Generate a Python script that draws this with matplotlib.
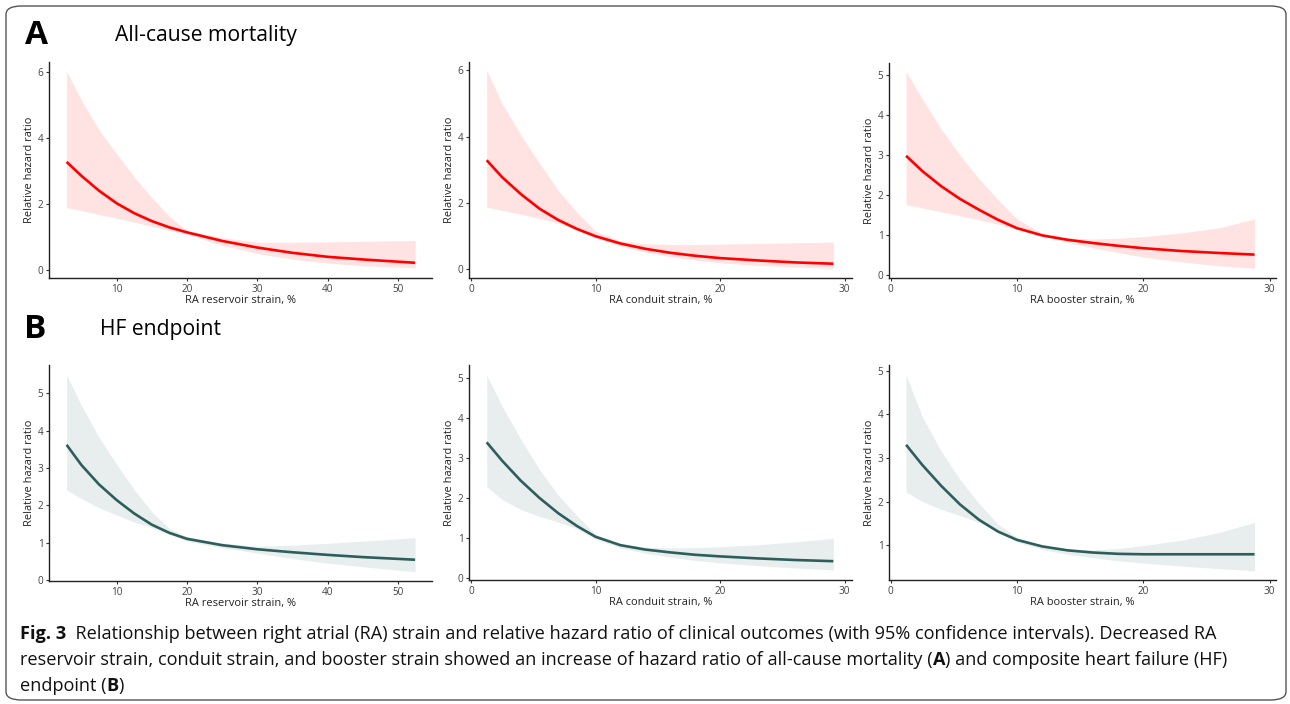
import matplotlib
matplotlib.use("Agg")
import matplotlib.pyplot as plt
from matplotlib.patches import FancyBboxPatch
from matplotlib import font_manager

# ---------------- data ----------------
reservoir_x = [2.9, 5, 7.5, 10, 12.5, 15, 17.5, 20, 25, 30, 35, 40, 45, 52.4]
conduit_x = [1.26, 2.5, 4, 5.5, 7, 8.5, 10, 12, 14, 16, 18, 20, 23, 26, 29.1]
booster_x = [1.22, 2.5, 4, 5.5, 7, 8.5, 10, 12, 14, 16, 18, 20, 23, 26, 28.8]

# All-cause mortality
mort_res_hr = [3.27, 2.85, 2.40, 2.02, 1.72, 1.48, 1.29, 1.14, 0.88, 0.68, 0.52, 0.40, 0.32, 0.22]
mort_res_lo = [1.89, 1.80, 1.68, 1.57, 1.45, 1.32, 1.20, 1.08, 0.75, 0.50, 0.33, 0.21, 0.13, 0.07]
mort_res_hi = [6.00, 5.14, 4.23, 3.52, 2.81, 2.19, 1.62, 1.19, 0.98, 0.84, 0.84, 0.85, 0.87, 0.89]

mort_con_hr = [3.29, 2.78, 2.27, 1.83, 1.49, 1.22, 1.00, 0.78, 0.62, 0.50, 0.41, 0.34, 0.27, 0.21, 0.17]
mort_con_lo = [1.88, 1.78, 1.66, 1.54, 1.40, 1.18, 0.95, 0.70, 0.52, 0.38, 0.28, 0.20, 0.12, 0.07, 0.03]
mort_con_hi = [6.00, 5.00, 4.05, 3.20, 2.38, 1.72, 1.15, 0.86, 0.77, 0.75, 0.75, 0.76, 0.78, 0.80, 0.82]

mort_boo_hr = [2.98, 2.60, 2.22, 1.90, 1.63, 1.38, 1.17, 0.99, 0.88, 0.80, 0.73, 0.67, 0.60, 0.55, 0.51]
mort_boo_lo = [1.76, 1.68, 1.58, 1.48, 1.38, 1.27, 1.14, 0.97, 0.82, 0.68, 0.56, 0.45, 0.33, 0.23, 0.17]
mort_boo_hi = [5.09, 4.40, 3.65, 2.99, 2.40, 1.88, 1.40, 1.04, 0.93, 0.90, 0.92, 0.96, 1.05, 1.18, 1.40]

# HF endpoint
hf_res_hr = [3.62, 3.08, 2.56, 2.14, 1.78, 1.48, 1.26, 1.10, 0.93, 0.82, 0.74, 0.67, 0.61, 0.54]
hf_res_lo = [2.41, 2.18, 1.93, 1.74, 1.55, 1.40, 1.22, 1.04, 0.86, 0.72, 0.57, 0.45, 0.35, 0.22]
hf_res_hi = [5.49, 4.68, 3.82, 3.10, 2.42, 1.82, 1.38, 1.16, 0.99, 0.90, 0.93, 0.98, 1.04, 1.13]

hf_con_hr = [3.40, 2.94, 2.44, 2.01, 1.63, 1.31, 1.04, 0.83, 0.72, 0.65, 0.59, 0.55, 0.50, 0.46, 0.43]
hf_con_lo = [2.29, 1.97, 1.72, 1.55, 1.41, 1.24, 0.98, 0.76, 0.63, 0.53, 0.45, 0.39, 0.32, 0.26, 0.21]
hf_con_hi = [5.08, 4.30, 3.47, 2.72, 2.08, 1.57, 1.10, 0.86, 0.78, 0.76, 0.77, 0.79, 0.84, 0.91, 1.00]

hf_boo_hr = [3.30, 2.84, 2.36, 1.93, 1.58, 1.31, 1.12, 0.97, 0.88, 0.83, 0.80, 0.79, 0.79, 0.79, 0.79]
hf_boo_lo = [2.22, 2.00, 1.82, 1.68, 1.52, 1.31, 1.07, 0.90, 0.79, 0.71, 0.64, 0.59, 0.52, 0.46, 0.41]
hf_boo_hi = [4.90, 3.95, 3.15, 2.50, 1.95, 1.48, 1.18, 0.99, 0.91, 0.89, 0.92, 0.99, 1.11, 1.29, 1.52]

x_labels = ["RA reservoir strain, %", "RA conduit strain, %", "RA booster strain, %"]
y_label = "Relative hazard ratio"
panel_titles = [("A", "All-cause mortality"), ("B", "HF endpoint")]
caption_line1 = [("Fig. 3", "bold"), ("  Relationship between right atrial (RA) strain and relative hazard ratio of clinical outcomes (with 95% confidence intervals). Decreased RA", "normal")]
caption_line2 = [("reservoir strain, conduit strain, and booster strain showed an increase of hazard ratio of all-cause mortality (", "normal"), ("A", "bold"), (") and composite heart failure (HF)", "normal")]
caption_line3 = [("endpoint (", "normal"), ("B", "bold"), (")", "normal")]

# ---------------- style ----------------
avail = {f.name for f in font_manager.fontManager.ttflist}
base_font = "Open Sans" if "Open Sans" in avail else "DejaVu Sans"
plt.rcParams["font.family"] = [base_font, "DejaVu Sans"]

W, H = 1290, 704
fig = plt.figure(figsize=(W / 100, H / 100), dpi=100)
fig.patch.set_facecolor("white")

frame = FancyBboxPatch((6 / W, 4 / H), 1280 / W, 694 / H,
                       boxstyle="round,pad=0,rounding_size=0.012",
                       transform=fig.transFigure, facecolor="none",
                       edgecolor="#555555", linewidth=1.0)
fig.patches.append(frame)

def ax_at(l, r, t, b):
    return fig.add_axes([l / W, 1 - b / H, (r - l) / W, (b - t) / H])

red_line, red_fill = "#ff0000", "#ffe2e2"
teal_line, teal_fill = "#2e5e5c", "#e8eeee"

panels = [
    ((49, 432, 62, 278), reservoir_x, mort_res_hr, mort_res_lo, mort_res_hi, (0.4, 54.8), (-0.24, 6.29), [0, 2, 4, 6], [10, 20, 30, 40, 50], 0, (red_line, red_fill)),
    ((469, 852, 62, 278), conduit_x, mort_con_hr, mort_con_lo, mort_con_hi, (-0.16, 30.6), (-0.26, 6.25), [0, 2, 4, 6], [0, 10, 20, 30], 1, (red_line, red_fill)),
    ((889, 1276, 63, 278), booster_x, mort_boo_hr, mort_boo_lo, mort_boo_hi, (-0.13, 30.5), (-0.075, 5.3), [0, 1, 2, 3, 4, 5], [0, 10, 20, 30], 2, (red_line, red_fill)),
    ((49, 432, 365, 581), reservoir_x, hf_res_hr, hf_res_lo, hf_res_hi, (0.4, 54.8), (-0.03, 5.76), [0, 1, 2, 3, 4, 5], [10, 20, 30, 40, 50], 0, (teal_line, teal_fill)),
    ((469, 852, 365, 580), conduit_x, hf_con_hr, hf_con_lo, hf_con_hi, (-0.16, 30.6), (-0.04, 5.33), [0, 1, 2, 3, 4, 5], [0, 10, 20, 30], 1, (teal_line, teal_fill)),
    ((889, 1276, 365, 580), booster_x, hf_boo_hr, hf_boo_lo, hf_boo_hi, (-0.13, 30.5), (0.2, 5.13), [1, 2, 3, 4, 5], [0, 10, 20, 30], 2, (teal_line, teal_fill)),
]

for box, xs, hr, lo, hi, xlim, ylim, yt, xt, xl, (lc, fc) in panels:
    ax = ax_at(*box)
    ax.fill_between(xs, lo, hi, color=fc, linewidth=0, zorder=1)
    ax.plot(xs, hr, color=lc, linewidth=1.9, solid_capstyle="butt",
            solid_joinstyle="round", zorder=2)
    ax.set_xlim(*xlim)
    ax.set_ylim(*ylim)
    ax.set_xticks(xt)
    ax.set_yticks(yt)
    for s in ["top", "right"]:
        ax.spines[s].set_visible(False)
    for s in ["left", "bottom"]:
        ax.spines[s].set_linewidth(1.0)
        ax.spines[s].set_color("#222222")
    ax.tick_params(axis="both", length=2.5, width=0.8, color="#333333",
                   labelsize=7.2, labelcolor="#444444", pad=1.5)
    ax.set_xlabel(x_labels[xl], fontsize=7.9, color="#222222", labelpad=0)
    ax.set_ylabel(y_label, fontsize=7.9, color="#222222", labelpad=2)
    ax.set_facecolor("none")

# panel headings
fig.text(25 / W, 1 - 35 / H, panel_titles[0][0], fontsize=24, fontweight="bold", va="center", ha="left", color="black")
fig.text(115 / W, 1 - 36 / H, panel_titles[0][1], fontsize=15.2, va="center", ha="left", color="black")
fig.text(24 / W, 1 - 330 / H, panel_titles[1][0], fontsize=24, fontweight="bold", va="center", ha="left", color="black")
fig.text(100 / W, 1 - 330 / H, panel_titles[1][1], fontsize=15.2, va="center", ha="left", color="black")

# caption (rich text)
renderer = fig.canvas.get_renderer()
def rich(y_px, pieces, x_px=20, size=13.1):
    x = x_px
    for txt, wt in pieces:
        t = fig.text(x / W, 1 - y_px / H, txt, fontsize=size, fontweight=wt,
                     va="baseline", ha="left", color="#111111")
        bb = t.get_window_extent(renderer=renderer)
        x += bb.width

rich(639, caption_line1)
rich(665, caption_line2)
rich(691, caption_line3)

fig.savefig("out.png", dpi=100, facecolor="white")
